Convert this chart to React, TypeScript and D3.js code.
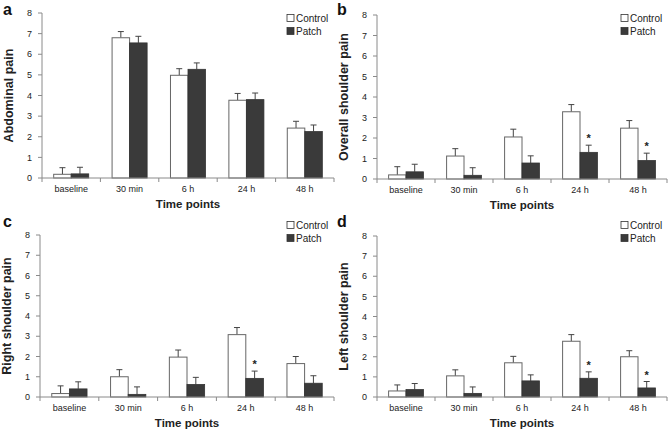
import React from 'react'
import * as d3 from 'd3'

const timePoints = ['baseline', '30 min', '6 h', '24 h', '48 h']
const yTicks = [0, 1, 2, 3, 4, 5, 6, 7, 8]

const abdControl = [0.18, 6.8, 4.98, 3.77, 2.42]
const abdControlErr = [0.32, 0.3, 0.32, 0.33, 0.33]
const abdPatch = [0.2, 6.55, 5.27, 3.8, 2.25]
const abdPatchErr = [0.32, 0.32, 0.31, 0.32, 0.32]

const overallControl = [0.2, 1.12, 2.05, 3.28, 2.48]
const overallControlErr = [0.4, 0.36, 0.38, 0.35, 0.37]
const overallPatch = [0.35, 0.18, 0.78, 1.3, 0.9]
const overallPatchErr = [0.37, 0.37, 0.35, 0.35, 0.36]
const overallStars = [false, false, false, true, true]

const rightControl = [0.17, 1.0, 1.97, 3.08, 1.65]
const rightControlErr = [0.38, 0.35, 0.35, 0.35, 0.35]
const rightPatch = [0.4, 0.13, 0.62, 0.92, 0.68]
const rightPatchErr = [0.35, 0.37, 0.35, 0.36, 0.37]
const rightStars = [false, false, false, true, false]

const leftControl = [0.3, 1.05, 1.7, 2.77, 2.0]
const leftControlErr = [0.3, 0.3, 0.32, 0.33, 0.3]
const leftPatch = [0.37, 0.18, 0.8, 0.93, 0.45]
const leftPatchErr = [0.3, 0.32, 0.3, 0.32, 0.32]
const leftStars = [false, false, false, true, true]

const noStars = [false, false, false, false, false]

const FONT = '"Liberation Sans", Arial, sans-serif'
const AXIS = '#8a8a8a'
const TEXT = '#222'
const DARK = '#3a3a3a'

interface PanelProps {
  letter: string
  yLabel: string
  x0: number
  x1: number
  y0: number
  y8: number
  control: number[]
  controlErr: number[]
  patch: number[]
  patchErr: number[]
  stars: boolean[]
  legendX: number
  legendY: number
  letterY: number
  letterX: number
}

const Panel: React.FC<PanelProps> = (p) => {
  const xScale = d3.scaleBand().domain(timePoints).range([p.x0, p.x1])
  const yScale = d3.scaleLinear().domain([0, 8]).range([p.y0, p.y8])
  const band = xScale.bandwidth()
  const bw = band * 0.3
  const capW = 3

  const bars = timePoints.map((t, i) => {
    const cx = (xScale(t) as number) + band / 2
    const cTop = yScale(p.control[i])
    const pTop = yScale(p.patch[i])
    const cErr = yScale(p.control[i] + p.controlErr[i])
    const pErr = yScale(p.patch[i] + p.patchErr[i])
    const cMid = cx - bw / 2
    const pMid = cx + bw / 2
    return (
      <g key={t}>
        <line x1={cMid} x2={cMid} y1={cTop} y2={cErr} stroke="#444" strokeWidth={1} />
        <line x1={cMid - capW} x2={cMid + capW} y1={cErr} y2={cErr} stroke="#444" strokeWidth={1} />
        <line x1={pMid} x2={pMid} y1={pTop} y2={pErr} stroke="#444" strokeWidth={1} />
        <line x1={pMid - capW} x2={pMid + capW} y1={pErr} y2={pErr} stroke="#444" strokeWidth={1} />
        <rect x={cx - bw} y={cTop} width={bw} height={p.y0 - cTop} fill="#fff" stroke="#666" strokeWidth={1} />
        <rect x={cx} y={pTop} width={bw} height={p.y0 - pTop} fill={DARK} stroke="#333" strokeWidth={0.8} />
        {p.stars[i] && (
          <text x={pMid} y={pErr - 3} textAnchor="middle" fontSize={11} fontWeight="bold" fill={TEXT}>*</text>
        )}
      </g>
    )
  })

  const boundaries = timePoints.map((t) => xScale(t) as number).concat([p.x1])

  return (
    <g fontFamily={FONT}>
      <text x={p.letterX} y={p.letterY} fontSize={16} fontWeight="bold" fill="#111">{p.letter}</text>
      {yTicks.map((v) => (
        <g key={v}>
          <line x1={p.x0 - 4} x2={p.x0} y1={yScale(v)} y2={yScale(v)} stroke={AXIS} />
          <text x={p.x0 - 10} y={yScale(v) + 3.2} textAnchor="end" fontSize={9} fill={TEXT}>{v}</text>
        </g>
      ))}
      {boundaries.map((b, i) => (
        <line key={i} x1={b} x2={b} y1={p.y0} y2={p.y0 + 4} stroke={AXIS} />
      ))}
      {bars}
      <line x1={p.x0} x2={p.x0} y1={p.y8} y2={p.y0} stroke={AXIS} />
      <line x1={p.x0} x2={p.x1} y1={p.y0} y2={p.y0} stroke={AXIS} />
      {timePoints.map((t) => (
        <text key={t} x={(xScale(t) as number) + band / 2} y={p.y0 + 13.5} textAnchor="middle" fontSize={9} fill={TEXT}>{t}</text>
      ))}
      <text x={(p.x0 + p.x1) / 2} y={p.y0 + 30} textAnchor="middle" fontSize={11.5} fontWeight="bold" fill={TEXT}>Time points</text>
      <text
        transform={`translate(${p.x0 - 29},${(p.y0 + p.y8) / 2}) rotate(-90)`}
        textAnchor="middle"
        fontSize={12.5}
        fontWeight="bold"
        fill={TEXT}
      >
        {p.yLabel}
      </text>
      <rect x={p.legendX} y={p.legendY - 3.5} width={7} height={7} fill="#fff" stroke="#333" strokeWidth={0.8} />
      <text x={p.legendX + 9} y={p.legendY + 3.5} fontSize={10} fill={TEXT}>Control</text>
      <rect x={p.legendX} y={p.legendY + 9.5} width={7} height={7} fill={DARK} stroke="#333" strokeWidth={0.8} />
      <text x={p.legendX + 9} y={p.legendY + 16.5} fontSize={10} fill={TEXT}>Patch</text>
    </g>
  )
}

export default function App() {
  return (
    <svg width={669} height={430} style={{ position: 'absolute', left: 0, top: 0, background: '#fff' }}>
      <Panel letter="a" yLabel="Abdominal pain" x0={42} x1={334} y0={178} y8={13}
        control={abdControl} controlErr={abdControlErr} patch={abdPatch} patchErr={abdPatchErr}
        stars={noStars} legendX={287} legendY={18} letterX={3} letterY={15} />
      <Panel letter="b" yLabel="Overall shoulder pain" x0={377} x1={667} y0={179} y8={15}
        control={overallControl} controlErr={overallControlErr} patch={overallPatch} patchErr={overallPatchErr}
        stars={overallStars} legendX={621} legendY={18} letterX={337} letterY={15} />
      <Panel letter="c" yLabel="Right shoulder pain" x0={40} x1={334} y0={397} y8={235}
        control={rightControl} controlErr={rightControlErr} patch={rightPatch} patchErr={rightPatchErr}
        stars={rightStars} legendX={287} legendY={225} letterX={3} letterY={227} />
      <Panel letter="d" yLabel="Left shoulder pain" x0={377} x1={667} y0={397} y8={236}
        control={leftControl} controlErr={leftControlErr} patch={leftPatch} patchErr={leftPatchErr}
        stars={leftStars} legendX={621} legendY={225} letterX={337} letterY={227} />
    </svg>
  )
}
